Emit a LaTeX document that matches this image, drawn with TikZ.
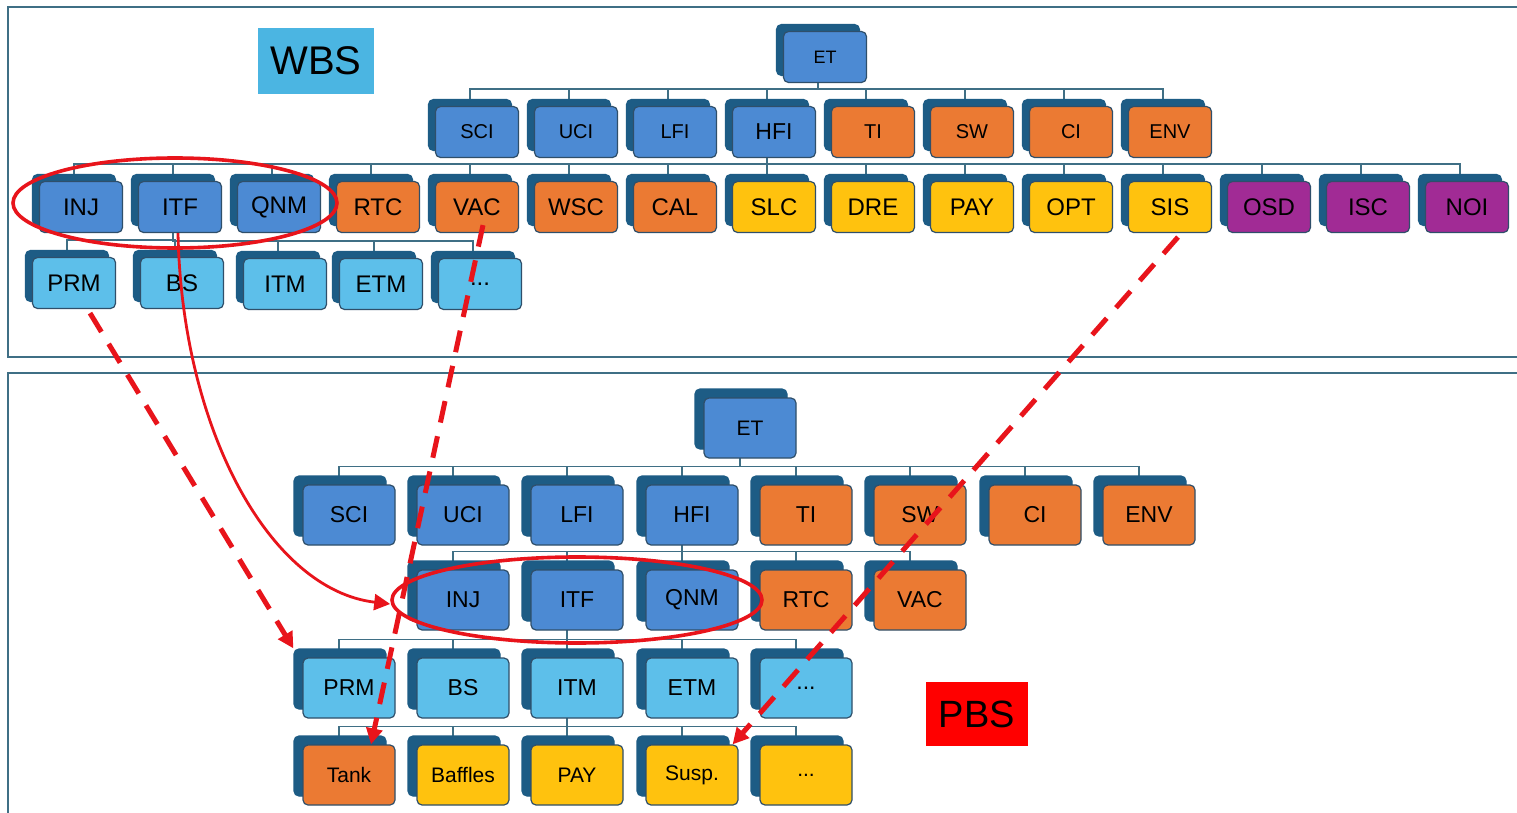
\documentclass[tikz,border=0pt]{standalone}
\usepackage{fontspec}
\setmainfont{Liberation Sans}
\usetikzlibrary{shadows}
\usetikzlibrary{shapes.geometric}
\usetikzlibrary{arrows.meta}
\pgfdeclarelayer{background}
\pgfsetlayers{background,main}

\definecolor{panel}{HTML}{3F6F85}
\definecolor{back}{HTML}{1D5C85}
\definecolor{boxline}{HTML}{2F4F6A}
\definecolor{cblue}{HTML}{4C8AD3}
\definecolor{clight}{HTML}{5DBFEA}
\definecolor{corange}{HTML}{EB7A33}
\definecolor{cyellow}{HTML}{FFC20E}
\definecolor{cpurple}{HTML}{A12B95}
\definecolor{wbsfill}{HTML}{4BB5E2}
\definecolor{redmark}{HTML}{E8141B}

\tikzset{
  box/.style={draw=boxline, line width=0.6pt, rounded corners=2.5pt, inner sep=0pt, text=black},
  wbox/.style={box, minimum width=41.5pt, minimum height=25.5pt, font=\fontsize{12}{14}\selectfont,
    copy shadow={shadow xshift=-3.5pt, shadow yshift=3.5pt, fill=back, draw=back}},
  pbox/.style={box, minimum width=46pt, minimum height=30pt, font=\fontsize{11.5}{13}\selectfont,
    copy shadow={shadow xshift=-4.5pt, shadow yshift=4.5pt, fill=back, draw=back}},
  fblue/.style={fill=cblue},
  flight/.style={fill=clight},
  forange/.style={fill=corange},
  fyellow/.style={fill=cyellow},
  fpurple/.style={fill=cpurple},
  wtree/.style={draw=panel, line width=0.8pt,
    to path={([xshift=-3.5pt]\tikztostart.center) |- ([xshift=-3.5pt,yshift=8.5pt]\tikztotarget.north)
      -- ([xshift=-3.5pt]\tikztotarget.north)}},
  ptree/.style={draw=panel, line width=0.8pt,
    to path={([xshift=-5pt]\tikztostart.center) |- ([xshift=-5pt,yshift=9pt]\tikztotarget.north)
      -- ([xshift=-5pt]\tikztotarget.north)}},
  ring/.style={ellipse, draw=redmark, line width=1.8pt, inner sep=0pt},
  redarrow/.style={draw=redmark, line width=1.4pt, -{Triangle[length=8pt,width=8pt]}},
  reddash/.style={draw=redmark, line width=2.5pt, dash pattern=on 11pt off 7pt, -{Triangle[length=8pt,width=8pt]}},
  tag/.style={inner sep=0pt, text=black}
}

\begin{document}
\begin{tikzpicture}[x=0.5pt,y=-0.5pt]
  \useasboundingbox (0,0) rectangle (1517,813);

  %Nodes: WBS
  \node[tag, fill=wbsfill, minimum width=58pt, minimum height=33pt, font=\fontsize{20}{24}\selectfont] (wbs) at (316,61) {WBS};
  \node[wbox,fblue,font=\fontsize{9}{11}\selectfont] (wET) at (825,57) {ET};

  \node[wbox,fblue,font=\fontsize{10}{12}\selectfont]   (wSCI) at (477,132) {SCI};
  \node[wbox,fblue,font=\fontsize{10}{12}\selectfont]   (wUCI) at (576,132) {UCI};
  \node[wbox,fblue,font=\fontsize{10}{12}\selectfont]   (wLFI) at (675,132) {LFI};
  \node[wbox,fblue,font=\fontsize{11.5}{13}\selectfont] (wHFI) at (774,132) {HFI};
  \node[wbox,forange,font=\fontsize{10}{12}\selectfont] (wTI)  at (873,132) {TI};
  \node[wbox,forange,font=\fontsize{10}{12}\selectfont] (wSW)  at (972,132) {SW};
  \node[wbox,forange,font=\fontsize{10}{12}\selectfont] (wCI)  at (1071,132) {CI};
  \node[wbox,forange,font=\fontsize{10}{12}\selectfont] (wENV) at (1170,132) {ENV};

  \node[wbox,fblue]    (wINJ) at (81,207)   {INJ};
  \node[wbox,fblue]    (wITF) at (180,207)  {ITF};
  \node[wbox,fblue]    (wQNM) at (279,207)  {QNM};
  \node[wbox,forange]  (wRTC) at (378,207)  {RTC};
  \node[wbox,forange]  (wVAC) at (477,207)  {VAC};
  \node[wbox,forange]  (wWSC) at (576,207)  {WSC};
  \node[wbox,forange]  (wCAL) at (675,207)  {CAL};
  \node[wbox,fyellow]  (wSLC) at (774,207)  {SLC};
  \node[wbox,fyellow]  (wDRE) at (873,207)  {DRE};
  \node[wbox,fyellow]  (wPAY) at (972,207)  {PAY};
  \node[wbox,fyellow]  (wOPT) at (1071,207) {OPT};
  \node[wbox,fyellow]  (wSIS) at (1170,207) {SIS};
  \node[wbox,fpurple]  (wOSD) at (1269,207) {OSD};
  \node[wbox,fpurple]  (wISC) at (1368,207) {ISC};
  \node[wbox,fpurple]  (wNOI) at (1467,207) {NOI};

  \node[wbox,flight]   (wPRM) at (74,283)   {PRM};
  \node[wbox,flight]   (wBS)  at (182,283)  {BS};
  \node[wbox,flight]   (wITM) at (285,284)  {ITM};
  \node[wbox,flight]   (wETM) at (381,284)  {ETM};
  \node[wbox,flight]   (wdots) at (480,284) {...};

  %Nodes: PBS
  \node[tag, fill=red, minimum width=51pt, minimum height=32pt, font=\fontsize{19}{23}\selectfont] (pbs) at (977,714) {PBS};
  \node[pbox,fblue,font=\fontsize{10.5}{12}\selectfont] (pET) at (750,428) {ET};

  \node[pbox,fblue]    (pSCI) at (349,515)  {SCI};
  \node[pbox,fblue]    (pUCI) at (463,515)  {UCI};
  \node[pbox,fblue]    (pLFI) at (577,515)  {LFI};
  \node[pbox,fblue]    (pHFI) at (692,515)  {HFI};
  \node[pbox,forange]  (pTI)  at (806,515)  {TI};
  \node[pbox,forange]  (pSW)  at (920,515)  {SW};
  \node[pbox,forange]  (pCI)  at (1035,515) {CI};
  \node[pbox,forange]  (pENV) at (1149,515) {ENV};

  \node[pbox,fblue]    (pINJ) at (463,600)  {INJ};
  \node[pbox,fblue]    (pITF) at (577,600)  {ITF};
  \node[pbox,fblue]    (pQNM) at (692,600)  {QNM};
  \node[pbox,forange]  (pRTC) at (806,600)  {RTC};
  \node[pbox,forange]  (pVAC) at (920,600)  {VAC};

  \node[pbox,flight]   (pPRM) at (349,688)  {PRM};
  \node[pbox,flight]   (pBS)  at (463,688)  {BS};
  \node[pbox,flight]   (pITM) at (577,688)  {ITM};
  \node[pbox,flight]   (pETM) at (692,688)  {ETM};
  \node[pbox,flight]   (pdots) at (806,688) {...};

  \node[pbox,forange,font=\fontsize{10.5}{12}\selectfont] (pTank)    at (349,775) {Tank};
  \node[pbox,fyellow,font=\fontsize{10.5}{12}\selectfont] (pBaffles) at (463,775) {Baffles};
  \node[pbox,fyellow,font=\fontsize{10.5}{12}\selectfont] (pPAY)     at (577,775) {PAY};
  \node[pbox,fyellow,font=\fontsize{10.5}{12}\selectfont] (pSusp)    at (692,775) {Susp.};
  \node[pbox,fyellow,font=\fontsize{10.5}{12}\selectfont] (pmore)    at (806,775) {...};

  %Rings
  \node[ring, minimum width=162pt, minimum height=45pt] (wring) at (175,203) {};
  \node[ring, minimum width=185pt, minimum height=43pt] (pring) at (577,600) {};

  %Lines
  \begin{pgfonlayer}{background}
    \fill[white] (0,0) rectangle (1517,813);
    \draw[panel, line width=1.2pt] (8,7) rectangle (1540,357);
    \draw[panel, line width=1.2pt] (8,373) rectangle (1540,840);
    \draw[wtree] (wET) edge (wSCI) edge (wUCI) edge (wLFI) edge (wHFI) edge (wTI) edge (wSW) edge (wCI) edge (wENV);
    \draw[wtree] (wHFI) edge (wINJ) edge (wITF) edge (wQNM) edge (wRTC) edge (wVAC) edge (wWSC) edge (wCAL) edge (wSLC)
      edge (wDRE) edge (wPAY) edge (wOPT) edge (wSIS) edge (wOSD) edge (wISC) edge (wNOI);
    \draw[wtree] (wITF) edge (wPRM) edge (wBS) edge (wITM) edge (wETM) edge (wdots);
    \draw[ptree] (pET) edge (pSCI) edge (pUCI) edge (pLFI) edge (pHFI) edge (pTI) edge (pSW) edge (pCI) edge (pENV);
    \draw[ptree] (pHFI) edge (pINJ) edge (pITF) edge (pQNM) edge (pRTC) edge (pVAC);
    \draw[ptree] (pITF) edge (pPRM) edge (pBS) edge (pITM) edge (pETM) edge (pdots);
    \draw[ptree] (pITM) edge (pTank) edge (pBaffles) edge (pPAY) edge (pSusp) edge (pmore);
  \end{pgfonlayer}

  \draw[redarrow] ([xshift=-1pt]wITF.south) .. controls (182,430) and (270,590) .. ([yshift=-2pt]pring.west);
  \draw[reddash] ([xshift=8pt,yshift=-2pt]wPRM.south) -- ([xshift=-4.5pt,yshift=4.5pt]pPRM.north west);
  \draw[reddash] ([xshift=3pt,yshift=4pt]wVAC.south) -- ([xshift=11pt]pTank.north);
  \draw[reddash] ([xshift=4pt,yshift=-2pt]wSIS.south) -- ([xshift=-3pt]pSusp.north east);
\end{tikzpicture}
\end{document}
